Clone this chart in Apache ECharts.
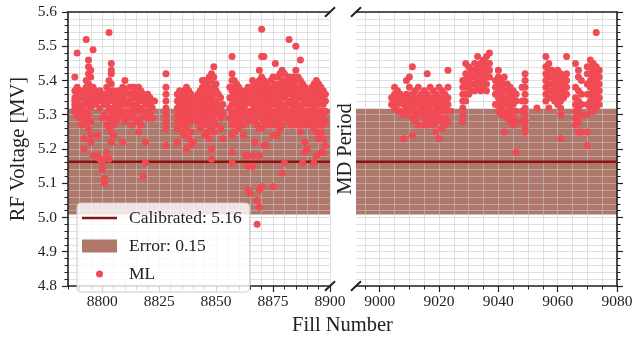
<!DOCTYPE html>
<html>
<head>
<meta charset="utf-8">
<script src="https://cdn.jsdelivr.net/npm/echarts@6/dist/echarts.min.js"></script>
<style>
  html, body { margin: 0; padding: 0; background: #ffffff; }
  #chart { width: 633px; height: 339px; }
</style>
</head>
<body>
<div id="chart"></div>
<script>
// ---- values ---------------------------------------------------------------
const calibratedVoltage = 5.163;   // MV
const errorHalfWidth = 0.154;      // MV

const rangeBeforeMD = [8785, 8900];
const rangeAfterMD = [8992, 9080];
const majorTicksBeforeMD = [8800, 8825, 8850, 8875, 8900];
const majorTicksAfterMD = [9000, 9020, 9040, 9060, 9080];
const voltageTicks = [4.8, 4.9, 5.0, 5.1, 5.2, 5.3, 5.4, 5.5, 5.6];

// ML-reconstructed RF voltage per fill: [fill, [voltages]]
const mlBeforeMD = [
  [8788, [5.41, 5.37, 5.35, 5.34, 5.33, 5.32, 5.31]],
  [8789, [5.48, 5.38, 5.36, 5.34, 5.32, 5.30]],
  [8790, [5.36, 5.35, 5.33, 5.31, 5.29]],
  [8791, [5.37, 5.35, 5.32, 5.27]],
  [8792, [5.33, 5.30, 5.23, 5.20]],
  [8793, [5.52, 5.40, 5.38, 5.36, 5.34, 5.31, 5.28]],
  [8794, [5.46, 5.44, 5.42, 5.39, 5.37, 5.35, 5.33, 5.30, 5.26]],
  [8795, [5.43, 5.41, 5.36, 5.34, 5.32, 5.28, 5.24, 5.22]],
  [8796, [5.49, 5.38, 5.36, 5.34, 5.18]],
  [8797, [5.37, 5.35, 5.33]],
  [8798, [5.36, 5.34, 5.24, 5.18]],
  [8799, [5.37, 5.35, 5.32, 5.17]],
  [8800, [5.36, 5.34, 5.29, 5.16, 5.14]],
  [8801, [5.36, 5.33, 5.30, 5.17, 5.115, 5.10]],
  [8802, [5.38, 5.35, 5.33, 5.27, 5.19]],
  [8803, [5.54, 5.40, 5.37, 5.35, 5.32, 5.29, 5.26, 5.17]],
  [8804, [5.45, 5.43, 5.42, 5.39, 5.36, 5.34, 5.31, 5.28, 5.25, 5.22]],
  [8805, [5.37, 5.36, 5.34, 5.32, 5.30, 5.27, 5.24]],
  [8806, [5.36, 5.33, 5.30, 5.28]],
  [8807, [5.37, 5.35, 5.32, 5.29]],
  [8808, [5.36, 5.34, 5.31]],
  [8809, [5.38, 5.35, 5.33, 5.30, 5.22]],
  [8810, [5.40, 5.37, 5.34, 5.31, 5.28]],
  [8811, [5.36, 5.33, 5.29]],
  [8812, [5.38, 5.36, 5.34, 5.31]],
  [8813, [5.38, 5.36, 5.33, 5.30, 5.27]],
  [8814, [5.38, 5.35, 5.32, 5.29]],
  [8815, [5.37, 5.35, 5.33, 5.31, 5.28]],
  [8816, [5.38, 5.36, 5.34, 5.31, 5.25]],
  [8817, [5.37, 5.35, 5.32, 5.29, 5.27]],
  [8818, [5.36, 5.34, 5.31, 5.12]],
  [8819, [5.35, 5.33, 5.30, 5.22, 5.16]],
  [8820, [5.36, 5.34, 5.31, 5.29]],
  [8821, [5.35, 5.33, 5.30]],
  [8822, [5.34, 5.32, 5.29]],
  [8823, [5.34]],
  [8828, [5.42, 5.38, 5.36, 5.34, 5.32, 5.30, 5.28, 5.26, 5.21]],
  [8833, [5.36, 5.34, 5.32, 5.30, 5.28, 5.26, 5.22]],
  [8834, [5.37, 5.35, 5.33, 5.31, 5.29, 5.27]],
  [8835, [5.36, 5.34, 5.32, 5.30, 5.28, 5.25]],
  [8836, [5.37, 5.35, 5.33, 5.31, 5.29, 5.27, 5.24]],
  [8837, [5.38, 5.36, 5.34, 5.32, 5.30, 5.28, 5.26, 5.20]],
  [8838, [5.37, 5.35, 5.33, 5.31, 5.29, 5.23]],
  [8839, [5.36, 5.34, 5.32, 5.30, 5.28, 5.25, 5.21]],
  [8840, [5.35, 5.33, 5.31, 5.29, 5.22]],
  [8842, [5.36, 5.34, 5.32, 5.30, 5.28]],
  [8843, [5.37, 5.35, 5.33, 5.31, 5.29, 5.26]],
  [8844, [5.40, 5.38, 5.35, 5.33, 5.31, 5.28]],
  [8845, [5.40, 5.38, 5.36, 5.34, 5.32, 5.30, 5.27, 5.24]],
  [8846, [5.39, 5.37, 5.35, 5.33, 5.31, 5.29, 5.25]],
  [8847, [5.41, 5.38, 5.36, 5.34, 5.32, 5.30, 5.28, 5.23]],
  [8848, [5.42, 5.40, 5.37, 5.35, 5.33, 5.31, 5.29, 5.26, 5.20, 5.17]],
  [8849, [5.44, 5.41, 5.38, 5.36, 5.34, 5.31, 5.28, 5.25]],
  [8850, [5.39, 5.37, 5.34, 5.32, 5.30, 5.27]],
  [8851, [5.36, 5.33, 5.30]],
  [8852, [5.35, 5.32, 5.29, 5.26]],
  [8853, [5.33, 5.30, 5.23]],
  [8856, [5.38, 5.35, 5.32, 5.29]],
  [8857, [5.47, 5.42, 5.40, 5.37, 5.35, 5.33, 5.30, 5.27, 5.24, 5.19, 5.16]],
  [8858, [5.40, 5.38, 5.36, 5.34, 5.31, 5.28, 5.25]],
  [8859, [5.39, 5.37, 5.35, 5.33, 5.30, 5.27]],
  [8860, [5.38, 5.36, 5.34, 5.32, 5.29, 5.26]],
  [8861, [5.37, 5.35, 5.33, 5.31, 5.28]],
  [8862, [5.36, 5.34, 5.32, 5.30, 5.27, 5.24]],
  [8863, [5.37, 5.35, 5.33, 5.30, 5.18]],
  [8864, [5.38, 5.36, 5.34, 5.31, 5.28, 5.18, 5.15, 5.08]],
  [8865, [5.38, 5.36, 5.34, 5.31, 5.29, 5.07]],
  [8866, [5.40, 5.37, 5.35, 5.33, 5.30, 5.18, 5.15]],
  [8867, [5.39, 5.36, 5.34, 5.32, 5.28, 5.22]],
  [8868, [5.38, 5.36, 5.34, 5.31, 5.27, 5.05, 4.98]],
  [8869, [5.43, 5.40, 5.37, 5.35, 5.33, 5.30, 5.26, 5.18, 5.08, 5.03]],
  [8870, [5.55, 5.47, 5.41, 5.39, 5.37, 5.35, 5.32, 5.29, 5.26, 5.09]],
  [8871, [5.47, 5.40, 5.38, 5.36, 5.34, 5.31, 5.28, 5.21]],
  [8872, [5.39, 5.37, 5.35, 5.33, 5.30, 5.27, 5.21]],
  [8873, [5.38, 5.36, 5.34, 5.32, 5.29]],
  [8874, [5.40, 5.37, 5.35, 5.33, 5.30, 5.27]],
  [8875, [5.41, 5.38, 5.36, 5.34, 5.31, 5.28, 5.24, 5.09]],
  [8876, [5.45, 5.39, 5.37, 5.35, 5.33, 5.30, 5.27]],
  [8877, [5.41, 5.38, 5.36, 5.34, 5.31, 5.28, 5.24]],
  [8878, [5.42, 5.39, 5.37, 5.35, 5.32, 5.29, 5.26]],
  [8879, [5.43, 5.40, 5.38, 5.36, 5.33, 5.30, 5.27, 5.13]],
  [8880, [5.42, 5.39, 5.37, 5.35, 5.32, 5.29, 5.16]],
  [8881, [5.40, 5.38, 5.36, 5.33, 5.30]],
  [8882, [5.52, 5.41, 5.39, 5.37, 5.34, 5.31, 5.28]],
  [8883, [5.40, 5.38, 5.36, 5.33, 5.30, 5.27]],
  [8884, [5.41, 5.39, 5.37, 5.35, 5.32, 5.29]],
  [8885, [5.50, 5.43, 5.40, 5.38, 5.36, 5.34, 5.31, 5.28]],
  [8886, [5.41, 5.38, 5.36, 5.33, 5.30, 5.27]],
  [8887, [5.46, 5.40, 5.37, 5.35, 5.32, 5.29, 5.25]],
  [8888, [5.39, 5.37, 5.35, 5.33, 5.30, 5.27, 5.16]],
  [8889, [5.38, 5.36, 5.34, 5.31, 5.28, 5.22, 5.19]],
  [8890, [5.37, 5.35, 5.33, 5.30, 5.27, 5.20]],
  [8891, [5.36, 5.34, 5.31, 5.28]],
  [8892, [5.38, 5.36, 5.33, 5.30, 5.27]],
  [8893, [5.39, 5.37, 5.35, 5.32, 5.29, 5.26, 5.16]],
  [8894, [5.40, 5.38, 5.36, 5.34, 5.31, 5.28, 5.25, 5.18]],
  [8895, [5.39, 5.37, 5.35, 5.33, 5.30, 5.27, 5.23]],
  [8896, [5.38, 5.36, 5.34, 5.31, 5.28, 5.25, 5.19]],
  [8897, [5.37, 5.35, 5.33, 5.30, 5.27, 5.23, 5.19]],
  [8898, [5.36, 5.34, 5.31, 5.28, 5.21]]
];

const mlAfterMD = [
  [9004, [5.35, 5.33]],
  [9005, [5.38, 5.36, 5.34, 5.32]],
  [9006, [5.37, 5.35, 5.33, 5.31]],
  [9007, [5.36, 5.34, 5.31]],
  [9008, [5.35, 5.33, 5.30, 5.23]],
  [9009, [5.40, 5.36, 5.34, 5.32, 5.30]],
  [9010, [5.41, 5.38, 5.35, 5.33, 5.31]],
  [9011, [5.44, 5.36, 5.34, 5.32, 5.29, 5.24]],
  [9012, [5.37, 5.35, 5.33, 5.30, 5.28]],
  [9013, [5.38, 5.35, 5.33, 5.31, 5.27]],
  [9014, [5.36, 5.34, 5.32, 5.30]],
  [9015, [5.37, 5.35, 5.33, 5.31, 5.29, 5.27]],
  [9016, [5.42, 5.36, 5.34, 5.32, 5.30, 5.27]],
  [9017, [5.38, 5.35, 5.33, 5.31, 5.28]],
  [9018, [5.37, 5.35, 5.33, 5.30, 5.27]],
  [9019, [5.36, 5.34, 5.32, 5.30, 5.28, 5.25]],
  [9020, [5.38, 5.35, 5.33, 5.31, 5.29, 5.23]],
  [9021, [5.37, 5.35, 5.33, 5.31, 5.28, 5.26]],
  [9022, [5.36, 5.34, 5.32, 5.29, 5.27]],
  [9023, [5.43, 5.38, 5.35, 5.33, 5.31, 5.28]],
  [9024, [5.31]],
  [9028, [5.40, 5.38, 5.36, 5.34, 5.32, 5.30, 5.28]],
  [9029, [5.45, 5.42, 5.40, 5.38, 5.36, 5.34]],
  [9030, [5.44, 5.42, 5.40, 5.38, 5.36]],
  [9031, [5.43, 5.41, 5.39, 5.37]],
  [9032, [5.45, 5.43, 5.41, 5.39, 5.37]],
  [9033, [5.47, 5.44, 5.42, 5.40, 5.38]],
  [9034, [5.45, 5.43, 5.41, 5.39, 5.37]],
  [9035, [5.46, 5.44, 5.42, 5.40, 5.38]],
  [9036, [5.47, 5.45, 5.43, 5.41, 5.39, 5.37]],
  [9037, [5.48, 5.45, 5.43, 5.41]],
  [9039, [5.40, 5.38, 5.36, 5.33]],
  [9040, [5.43, 5.41, 5.39, 5.37, 5.35, 5.33, 5.31]],
  [9041, [5.40, 5.38, 5.36, 5.34, 5.32, 5.30]],
  [9042, [5.41, 5.39, 5.37, 5.35, 5.33, 5.30, 5.25]],
  [9043, [5.39, 5.37, 5.35, 5.33, 5.31, 5.29]],
  [9044, [5.38, 5.36, 5.34, 5.32, 5.30, 5.28]],
  [9045, [5.37, 5.35, 5.33, 5.31, 5.29, 5.27]],
  [9046, [5.36, 5.34, 5.31, 5.28, 5.19]],
  [9048, [5.38, 5.34, 5.31, 5.28]],
  [9049, [5.42, 5.40, 5.38, 5.36, 5.34, 5.32, 5.30, 5.28, 5.26, 5.25]],
  [9053, [5.32]],
  [9056, [5.47, 5.44, 5.42, 5.40, 5.38, 5.36, 5.34]],
  [9057, [5.45, 5.43, 5.41, 5.39, 5.37, 5.35, 5.32]],
  [9058, [5.43, 5.41, 5.39, 5.37, 5.35]],
  [9059, [5.42, 5.40, 5.38, 5.36, 5.34]],
  [9060, [5.43, 5.41, 5.39, 5.37, 5.35, 5.33]],
  [9061, [5.42, 5.40, 5.38, 5.36, 5.34, 5.32, 5.30, 5.23]],
  [9062, [5.41, 5.39, 5.37, 5.35]],
  [9063, [5.47, 5.42, 5.40, 5.38, 5.36]],
  [9066, [5.45, 5.38, 5.35, 5.33, 5.31, 5.29, 5.27]],
  [9067, [5.43, 5.41, 5.37, 5.34, 5.32, 5.30, 5.28, 5.25]],
  [9068, [5.40, 5.36, 5.33, 5.30, 5.25]],
  [9070, [5.44, 5.42, 5.39, 5.36, 5.33, 5.30, 5.25, 5.21]],
  [9071, [5.46, 5.44, 5.42, 5.40, 5.38, 5.36, 5.34, 5.32]],
  [9072, [5.45, 5.43, 5.41, 5.39, 5.37, 5.35, 5.33, 5.31]],
  [9073, [5.54, 5.44, 5.42, 5.40, 5.38, 5.36, 5.34, 5.32]],
  [9074, [5.43, 5.41, 5.39, 5.37, 5.35, 5.33]]
];

// ---- styling --------------------------------------------------------------
const FONT = 'Liberation Serif';
const INK = '#222222';
const GRID_LINE = 'rgba(198,198,204,0.55)';
const CAL_COLOR = '#8a1414';
const BAND_COLOR = '#b0786a';
const ML_COLOR = '#f04a54';

const calLabel = 'Calibrated: ' + calibratedVoltage.toFixed(2);
const errLabel = 'Error: ' + errorHalfWidth.toFixed(2);

// panel rectangles (px)
const P1 = { left: 68, top: 12, width: 262, height: 274 };
const P2 = { left: 356, top: 12, width: 261, height: 274 };

function fivesWithin(range) {
  const out = [];
  for (let v = Math.ceil(range[0] / 5) * 5; v <= range[1]; v += 5) out.push(v);
  return out;
}

function toPoints(rows) {
  const pts = [];
  rows.forEach(([fill, volts]) => volts.forEach(v => pts.push([fill, v])));
  return pts;
}

function minorX(gridIndex, range) {
  return {
    type: 'value', gridIndex, position: 'bottom', min: range[0], max: range[1], z: 2,
    axisLine: { show: true, onZero: false, lineStyle: { color: INK, width: 1.6 } },
    axisTick: { show: true, length: 3.5, customValues: fivesWithin(range), lineStyle: { color: INK, width: 1 } },
    axisLabel: { show: false },
    splitLine: { show: true, lineStyle: { color: GRID_LINE, width: 1 } }
  };
}
function majorX(gridIndex, range, ticks) {
  return {
    type: 'value', gridIndex, position: 'bottom', min: range[0], max: range[1], z: 2,
    axisLine: { show: false, onZero: false },
    axisTick: { show: true, length: 6, customValues: ticks, lineStyle: { color: INK, width: 1.2 } },
    axisLabel: {
      show: true, customValues: ticks, margin: 8, color: INK,
      fontFamily: FONT, fontSize: 15.5, formatter: v => String(v)
    },
    splitLine: { show: false }
  };
}
function topSpine(gridIndex, range) {
  return {
    type: 'value', gridIndex, position: 'top', min: range[0], max: range[1], z: 2,
    axisLine: { show: true, onZero: false, lineStyle: { color: INK, width: 1.6 } },
    axisTick: { show: false }, axisLabel: { show: false }, splitLine: { show: false }
  };
}
function voltAxis(gridIndex, position, withLabels) {
  return {
    type: 'value', gridIndex, position, min: voltageTicks[0], max: voltageTicks[voltageTicks.length - 1],
    interval: 0.1, z: 2,
    axisLine: { show: true, onZero: false, lineStyle: { color: INK, width: 1.6 } },
    axisTick: { show: true, length: 6, lineStyle: { color: INK, width: 1.2 } },
    minorTick: { show: true, splitNumber: 5, length: 3.5, lineStyle: { color: INK, width: 1 } },
    axisLabel: {
      show: withLabels, margin: 11, color: INK, fontFamily: FONT, fontSize: 15.5,
      formatter: v => v.toFixed(1)
    },
    splitLine: { show: true, lineStyle: { color: GRID_LINE, width: 1 } },
    minorSplitLine: { show: true, lineStyle: { color: GRID_LINE, width: 1 } }
  };
}

function bandSeries(xAxisIndex, yAxisIndex, range) {
  return {
    type: 'custom', name: errLabel, xAxisIndex, yAxisIndex, z: 1, silent: true,
    itemStyle: { color: BAND_COLOR },
    encode: { x: [0, 2], y: [1, 3] },
    data: [[range[0], calibratedVoltage - errorHalfWidth, range[1], calibratedVoltage + errorHalfWidth]],
    renderItem(params, api) {
      const a = api.coord([api.value(0), api.value(3)]);
      const b = api.coord([api.value(2), api.value(1)]);
      return { type: 'rect', shape: { x: a[0], y: a[1], width: b[0] - a[0], height: b[1] - a[1] },
               style: { fill: BAND_COLOR } };
    }
  };
}
function calSeries(xAxisIndex, yAxisIndex, range) {
  return {
    type: 'line', name: calLabel, xAxisIndex, yAxisIndex, z: 3, silent: true,
    symbol: 'none', color: CAL_COLOR,
    lineStyle: { color: CAL_COLOR, width: 2.5 },
    data: [[range[0], calibratedVoltage], [range[1], calibratedVoltage]]
  };
}
function mlSeries(xAxisIndex, yAxisIndex, rows) {
  return {
    type: 'scatter', name: 'ML', xAxisIndex, yAxisIndex, z: 4, silent: true,
    symbolSize: 7, itemStyle: { color: ML_COLOR, opacity: 1 },
    data: toPoints(rows)
  };
}

// diagonal break marks at the inner panel corners
function breakMark(cx, cy) {
  return { type: 'line', z: 10, silent: true,
           shape: { x1: cx - 5, y1: cy + 4.7, x2: cx + 5, y2: cy - 4.7 },
           style: { stroke: INK, lineWidth: 2 } };
}
const p1Right = P1.left + P1.width, p1Bottom = P1.top + P1.height;
const p2Bottom = P2.top + P2.height;

const chart = echarts.init(document.getElementById('chart'), null, { renderer: 'canvas' });
chart.setOption({
  backgroundColor: '#ffffff',
  animation: false,
  textStyle: { fontFamily: FONT },
  grid: [
    Object.assign({ outerBoundsMode: 'none', containLabel: false }, P1),
    Object.assign({ outerBoundsMode: 'none', containLabel: false }, P2)
  ],
  xAxis: [
    minorX(0, rangeBeforeMD), majorX(0, rangeBeforeMD, majorTicksBeforeMD), topSpine(0, rangeBeforeMD),
    minorX(1, rangeAfterMD), majorX(1, rangeAfterMD, majorTicksAfterMD), topSpine(1, rangeAfterMD)
  ],
  yAxis: [
    Object.assign(voltAxis(0, 'left', true), {
      name: 'RF Voltage [MV]', nameLocation: 'middle', nameGap: 39,
      nameTextStyle: { fontFamily: FONT, fontSize: 20.5, color: INK }
    }),
    voltAxis(1, 'right', false),
    {
      type: 'value', gridIndex: 1, position: 'left', min: voltageTicks[0],
      max: voltageTicks[voltageTicks.length - 1], z: 2,
      axisLine: { show: false }, axisTick: { show: false }, axisLabel: { show: false },
      splitLine: { show: false },
      name: 'MD Period', nameLocation: 'middle', nameGap: 0,
      nameTextStyle: { fontFamily: FONT, fontSize: 20.5, color: INK }
    }
  ],
  legend: {
    left: 77, top: 203, orient: 'vertical', selectedMode: false,
    itemWidth: 42, itemHeight: 13, itemGap: 10, padding: [6, 8, 9, 5],
    backgroundColor: 'rgba(255,255,255,0.8)', borderColor: '#cccccc', borderWidth: 1, borderRadius: 4,
    textStyle: { fontFamily: FONT, fontSize: 17.5, color: INK, lineHeight: 13 },
    data: [
      { name: calLabel, icon: 'path://M0,0M42,13M0,5.25h35v2.5h-35Z', itemStyle: { color: CAL_COLOR, borderWidth: 0 } },
      { name: errLabel, icon: 'path://M0,0M42,13M0,0h35v13h-35Z', itemStyle: { color: BAND_COLOR, borderWidth: 0 } },
      { name: 'ML', icon: 'path://M0,0M42,13M21,6.5a3.5,3.5 0 1,0 -7,0a3.5,3.5 0 1,0 7,0Z', itemStyle: { color: ML_COLOR, borderWidth: 0 } }
    ]
  },
  graphic: [
    breakMark(p1Right, P1.top), breakMark(p1Right, p1Bottom),
    breakMark(P2.left, P2.top), breakMark(P2.left, p2Bottom),
    {
      type: 'text', z: 10, silent: true,
      x: (P1.left + P2.left + P2.width) / 2, y: 325.5,
      style: { text: 'Fill Number', fontFamily: FONT, fontSize: 20.5, fill: INK,
               align: 'center', verticalAlign: 'middle' }
    }
  ],
  series: [
    bandSeries(0, 0, rangeBeforeMD), bandSeries(3, 1, rangeAfterMD),
    calSeries(0, 0, rangeBeforeMD), calSeries(3, 1, rangeAfterMD),
    mlSeries(0, 0, mlBeforeMD), mlSeries(3, 1, mlAfterMD)
  ]
});
</script>
</body>
</html>
